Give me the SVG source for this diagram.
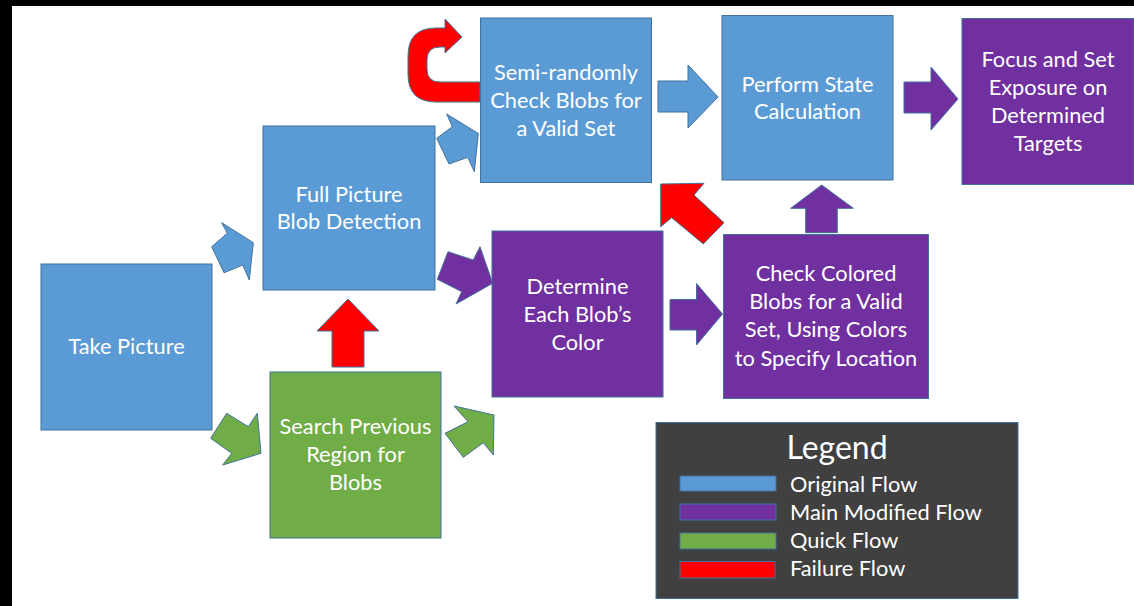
<svg xmlns="http://www.w3.org/2000/svg" width="1134" height="606" viewBox="0 0 1134 606">
  <style>
    .box { stroke: #41719C; stroke-width: 1; }
    .blue { fill: #5B9BD5; }
    .purple { fill: #7030A0; }
    .green { fill: #70AD47; }
    .red { fill: #FF0000; }
    .arrow { stroke: #41719C; stroke-width: 1; stroke-linejoin: miter; }
    .label { font-family: Lato, "Open Sans", sans-serif; font-size: 21.8px; fill: #FFFFFF; text-anchor: middle; }
    .legend-title { font-family: Lato, "Open Sans", sans-serif; font-size: 32px; fill: #FFFFFF; text-anchor: middle; }
    .legend-text { font-family: Lato, "Open Sans", sans-serif; font-size: 21.8px; fill: #FFFFFF; }
  </style>

  <!-- page background with dark frame on top and left -->
  <rect x="0" y="0" width="1134" height="606" fill="#FFFFFF"/>
  <rect x="0" y="0" width="1134" height="6" fill="#000000"/>
  <rect x="0" y="0" width="12" height="606" fill="#000000"/>

  <!-- block arrows between the steps -->
  <g id="connectors">
    <!-- Take Picture -> Full Picture Blob Detection -->
    <polygon class="arrow blue" points="211.7,246.7 227.3,233.3 221.7,222.7 253.3,242.7 249.3,280 242.7,265 224,272.7"/>
    <!-- Full Picture Blob Detection -> Semi-randomly Check -->
    <polygon class="arrow blue" points="436.7,138.3 452.3,126.7 446.7,114 478.3,133.5 474.3,171.7 467.7,157.3 449,164"/>
    <!-- retry loop on Semi-randomly Check -->
    <path class="arrow red" d="M480,102 L436,102 Q408,102 408,74 L408,56 Q408,28 436,28 L445,28 L445,19 L462,37 L445,53 L445,47 L440,47 Q427,47 427,60 L427,69 Q427,82 440,82 L480,82 Z"/>
    <!-- Semi-randomly Check -> Perform State Calculation -->
    <polygon class="arrow blue" points="658,81 688,81 688,65 718,97 688,128 688,112 658,112"/>
    <!-- Perform State Calculation -> Focus and Set Exposure -->
    <polygon class="arrow purple" points="904,82 931,82 931,67 958,99 931,130 931,113 904,113"/>
    <!-- Full Picture Blob Detection -> Determine Each Blob's Color -->
    <polygon class="arrow purple" points="437.3,279.3 448,251.7 473.3,260 480,246.7 492.7,283.3 456,304 461.7,291.7"/>
    <!-- Determine Each Blob's Color -> Check Colored Blobs -->
    <polygon class="arrow purple" points="670,299.5 696.5,299.5 696.5,283.5 722.5,314 696.5,345 696.5,330 670,330"/>
    <!-- Check Colored Blobs -> Perform State Calculation -->
    <polygon class="arrow purple" points="805.7,232.7 805.7,208.3 790.7,208.3 821.7,185 853.3,208.3 837.3,208.3 837.3,232.7"/>
    <!-- Check Colored Blobs failure -> Semi-randomly Check -->
    <polygon class="arrow red" points="703.3,244 671.7,217.7 660.7,226.7 660.7,184 704,183.3 694,195 724,222.7"/>
    <!-- Search Previous Region failure -> Full Picture Blob Detection -->
    <polygon class="arrow red" points="332,367 332,331 317,331 348,299 379,331 364,331 364,367"/>
    <!-- Take Picture -> Search Previous Region -->
    <polygon class="arrow green" points="210.7,438.3 226.7,413.3 248.3,426.7 257.3,413.3 261,453.3 222.7,465 231.7,453.3"/>
    <!-- Search Previous Region -> Determine Each Blob's Color -->
    <polygon class="arrow green" points="445,433.3 468,421.7 454,406 494,415 493.3,455 483.3,442.7 463.3,457.3"/>
  </g>

  <g id="take-picture">
    <rect class="box blue" x="41" y="264" width="171" height="166"/>
    <text class="label" x="126.5" y="354">Take Picture</text>
  </g>

  <g id="full-picture-blob-detection">
    <rect class="box blue" x="263" y="126" width="172" height="164"/>
    <text class="label" x="349" y="202">Full Picture</text>
    <text class="label" x="349" y="229">Blob Detection</text>
  </g>

  <g id="search-previous-region">
    <rect class="box green" x="270" y="372" width="171" height="166"/>
    <text class="label" x="355.5" y="434">Search Previous</text>
    <text class="label" x="355.5" y="462">Region for</text>
    <text class="label" x="355.5" y="490">Blobs</text>
  </g>

  <g id="semi-randomly-check">
    <rect class="box blue" x="480.5" y="18" width="171" height="164.5"/>
    <text class="label" x="566" y="80">Semi-randomly</text>
    <text class="label" x="566" y="108">Check Blobs for</text>
    <text class="label" x="566" y="136">a Valid Set</text>
  </g>

  <g id="perform-state-calculation">
    <rect class="box blue" x="722" y="15.5" width="171" height="164.5"/>
    <text class="label" x="807.5" y="92">Perform State</text>
    <text class="label" x="807.5" y="119">Calculation</text>
  </g>

  <g id="focus-and-set-exposure">
    <rect class="box purple" x="962" y="18.5" width="172" height="166"/>
    <text class="label" x="1048" y="67">Focus and Set</text>
    <text class="label" x="1048" y="95">Exposure on</text>
    <text class="label" x="1048" y="123">Determined</text>
    <text class="label" x="1048" y="151">Targets</text>
  </g>

  <g id="determine-blob-color">
    <rect class="box purple" x="492" y="231" width="171" height="166"/>
    <text class="label" x="577.5" y="294">Determine</text>
    <text class="label" x="577.5" y="322">Each Blob’s</text>
    <text class="label" x="577.5" y="350">Color</text>
  </g>

  <g id="check-colored-blobs">
    <rect class="box purple" x="723.5" y="234.5" width="205" height="164"/>
    <text class="label" x="826" y="281">Check Colored</text>
    <text class="label" x="826" y="309">Blobs for a Valid</text>
    <text class="label" x="826" y="337">Set, Using Colors</text>
    <text class="label" x="826" y="366">to Specify Location</text>
  </g>

  <g id="legend">
    <rect x="656" y="422.5" width="362" height="176" fill="#404040" stroke="#41719C" stroke-width="1"/>
    <text class="legend-title" x="837" y="459">Legend</text>
    <rect class="box blue" x="680" y="476" width="96" height="15"/>
    <rect class="box purple" x="680" y="504" width="96" height="16"/>
    <rect class="box green" x="680" y="533" width="96" height="16"/>
    <rect class="box red" x="680" y="561.5" width="95" height="16.5"/>
    <text class="legend-text" x="790" y="492">Original Flow</text>
    <text class="legend-text" x="790" y="520">Main Modified Flow</text>
    <text class="legend-text" x="790" y="548">Quick Flow</text>
    <text class="legend-text" x="790" y="576">Failure Flow</text>
  </g>
</svg>
